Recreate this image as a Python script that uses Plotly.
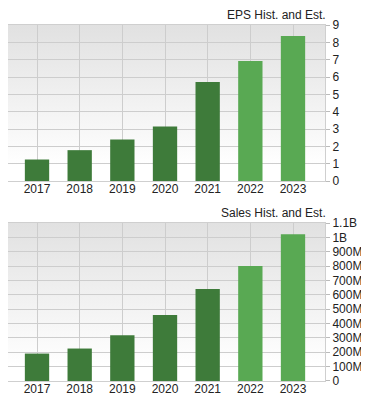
import base64
import plotly.graph_objects as go
from plotly.subplots import make_subplots

years = ["2017", "2018", "2019", "2020", "2021", "2022", "2023"]
eps_values = [1.24, 1.78, 2.39, 3.14, 5.71, 6.93, 8.37]
sales_values = [191e6, 226e6, 319e6, 460e6, 640e6, 800e6, 1021e6]
is_estimate = [False, False, False, False, False, True, True]
eps_ticks = list(range(0, 10))
sales_tickvals = [i * 1e8 for i in range(0, 12)]
sales_ticktext = ["0", "100M", "200M", "300M", "400M", "500M", "600M", "700M",
                  "800M", "900M", "1B", "1.1B"]
titles = ["EPS Hist. and Est.", "Sales Hist. and Est."]

HIST = "#3e7b3a"
EST = "#59a953"
colors = [EST if e else HIST for e in is_estimate]

svg = ('<svg xmlns="http://www.w3.org/2000/svg" width="10" height="100" preserveAspectRatio="none">'
       '<defs><linearGradient id="g" x1="0" y1="0" x2="0" y2="1">'
       '<stop offset="0" stop-color="#e1e1e1"/><stop offset="0.9" stop-color="#ffffff"/>'
       '</linearGradient></defs><rect width="10" height="100" fill="url(#g)"/></svg>')
grad = "data:image/svg+xml;base64," + base64.b64encode(svg.encode()).decode()

fig = make_subplots(rows=2, cols=1, vertical_spacing=0.12)
fig.add_trace(go.Bar(x=years, y=eps_values, marker=dict(color=colors, line=dict(width=0)),
                     width=0.57, showlegend=False), row=1, col=1)
fig.add_trace(go.Bar(x=years, y=sales_values, marker=dict(color=colors, line=dict(width=0)),
                     width=0.57, showlegend=False), row=2, col=1)

font = dict(family="Liberation Sans, Arial, sans-serif", size=12, color="#222")
top_dom = [0.5618, 1.0]
bot_dom = [0.0, 0.4438]

axis_common = dict(showline=True, linecolor="#cfcfcf", linewidth=1, mirror=True,
                   gridcolor="#cdcdcd", gridwidth=1, tickfont=font, zeroline=False,
                   automargin=False)

fig.update_xaxes(range=[-0.68, 6.75], showgrid=True, ticks="", ticklabelstandoff=-3,
                 **axis_common)
fig.update_yaxes(side="right", ticks="outside", ticklen=4, tickcolor="#bbbbbb",
                 showgrid=True, ticklabelstandoff=0, **axis_common)
fig.update_yaxes(domain=top_dom, range=[0, 9], tickvals=eps_ticks, row=1, col=1)
fig.update_yaxes(domain=bot_dom, range=[0, 1.1e9], tickvals=sales_tickvals,
                 ticktext=sales_ticktext, row=2, col=1)

images = []
annotations = []
for dom, title in zip([top_dom, bot_dom], titles):
    images.append(dict(source=grad, xref="paper", yref="paper", x=0, y=dom[1],
                       sizex=1, sizey=dom[1] - dom[0], xanchor="left", yanchor="top",
                       sizing="stretch", layer="below"))
    annotations.append(dict(text=title, xref="paper", yref="paper", x=1, y=dom[1],
                            xanchor="right", yanchor="bottom", xshift=3, yshift=1,
                            showarrow=False, font=font))

# page body has an 8px default margin, so the figure is sized to fit inside it
fig.update_layout(width=361, height=392, margin=dict(l=0, r=44, t=17, b=19),
                  paper_bgcolor="white", plot_bgcolor="rgba(0,0,0,0)",
                  images=images, annotations=annotations, bargap=0.4, font=font)
fig.write_html("out.html")
